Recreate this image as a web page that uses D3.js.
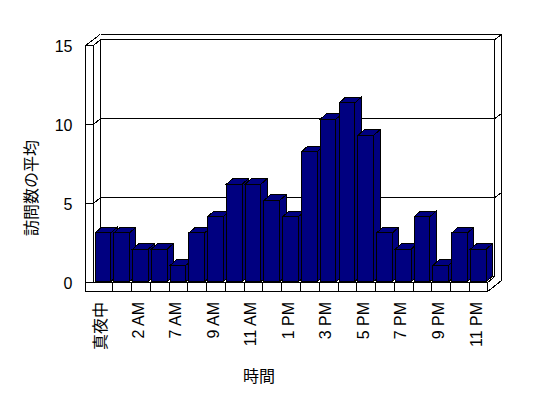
<!DOCTYPE html>
<html><head><meta charset="utf-8">
<script src="https://cdn.jsdelivr.net/npm/d3@7"></script>
<style>body{margin:0;background:#fff}svg{display:block}</style>
</head><body>
<svg id="c" width="548" height="398"></svg>
<script>
// ---- data ----
const categories = ["真夜中","1 AM","2 AM","6 AM","7 AM","8 AM","9 AM","10 AM","11 AM","12 PM","1 PM","2 PM","3 PM","4 PM","5 PM","6 PM","7 PM","8 PM","9 PM","10 PM","11 PM"];
const values = [3,3,2,2,1,3,4,6,6,5,4,8,10,11,9,3,2,4,1,3,2];
const yTicks = [0,5,10,15];
const xTickLabels = ["真夜中","2 AM","7 AM","9 AM","11 AM","1 PM","3 PM","5 PM","7 PM","9 PM","11 PM"];
const yTitle = "訪問数の平均";
const xTitle = "時間";

// ---- layout ----
const svg = d3.select("#c");
const latin = "'Liberation Sans', Arial, sans-serif";
const cjk = "'Noto Sans CJK JP', sans-serif";
const wallX = 85.5, plotX0 = 93.5, plotX1 = 487.7;
const DX = 7, DY = -6;          // depth (front -> back plane)
const outerTop = 34.5, outerRight = 501.5, floorBottom = 291.5;

const x = d3.scaleBand().domain(categories).range([plotX0, plotX1]).padding(0);
const yFront = d3.scaleLinear().domain([0,15]).range([282.5,45.5]);
const yBar = d3.scaleLinear().domain([0,15]).range([281.7,37.95]);

const g = svg.append("g").attr("fill","none").attr("stroke","#000").attr("stroke-width",1)
  .attr("shape-rendering","crispEdges");
const line = (pts) => g.append("path").attr("d", d3.line()(pts));

const xr = plotX1 + DX; // back-right x
// left wall
line([[wallX, yFront(15)],[wallX, floorBottom]]);
line([[plotX0, yFront(15)],[plotX0, yFront(0)]]);
line([[plotX0+DX, yFront(15)+DY],[plotX0+DX, yFront(0)+DY]]);
line([[wallX, yFront(15)],[plotX0+DX-0.5, outerTop]]);
// top
line([[plotX0+DX, outerTop],[outerRight, outerTop]]);
// right side
line([[outerRight, outerTop],[outerRight, 280.5]]);
line([[plotX1, floorBottom],[outerRight, 280.5]]);
line([[xr, yFront(15)+DY],[xr, yFront(0)+DY]]);
line([[plotX1, yFront(0)],[xr, yFront(0)+DY]]);
// gridlines / ticks
yTicks.forEach(v => {
  const yf = yFront(v), yb = yf + DY;
  if (v > 0) line([[wallX, yf],[plotX0, yf],[plotX0+DX, yb],[xr, yb],[outerRight, yb - 5]]);
  else line([[plotX0+DX, yb],[xr, yb]]);
});
// floor front face
line([[wallX, yFront(0)],[plotX1, yFront(0)]]);
line([[wallX, floorBottom],[plotX1, floorBottom]]);
line([[plotX1, yFront(0)],[plotX1, floorBottom]]);
categories.slice(1).forEach(c => {
  const xx = Math.round(x(c)) + 0.5;
  line([[xx, yFront(0)],[xx, floorBottom]]);
});

// bars
const bw = 15.7, bdx = 6.5, bdy = -5.7, boff = 1.5;
const bars = svg.append("g").attr("fill","#000080").attr("stroke","#000").attr("stroke-width",1)
  .attr("stroke-linejoin","miter").attr("shape-rendering","crispEdges");
categories.forEach((c, i) => {
  const x0 = x(c) + boff, x1 = x0 + bw;
  const yt = yBar(values[i]), yb = yBar(0);
  const bg = bars.append("g");
  bg.append("polygon").attr("points", [[x1,yt],[x1+bdx,yt+bdy],[x1+bdx,yb+bdy],[x1,yb]].join(" "));
  bg.append("polygon").attr("points", [[x0,yt],[x1,yt],[x1+bdx,yt+bdy],[x0+bdx,yt+bdy]].join(" "));
  bg.append("rect").attr("x", x0).attr("y", yt).attr("width", bw).attr("height", yb - yt);
});

// y axis labels
const yAxis = svg.append("g").attr("transform", `translate(${wallX},0)`)
  .call(d3.axisLeft(yFront).tickValues(yTicks).tickSize(0).tickPadding(13).tickFormat(d3.format("d")));
yAxis.select(".domain").remove();
yAxis.selectAll("text").attr("font-family", latin).attr("font-size", 16).attr("fill","#000").attr("dy","0.36em");

// x axis labels
const xAxis = svg.append("g").attr("transform", `translate(-2.5,302)`)
  .call(d3.axisBottom(x).tickValues(xTickLabels).tickSize(0));
xAxis.select(".domain").remove();
xAxis.selectAll("text")
  .attr("y", 0).attr("x", 0).attr("dy", "0.36em")
  .attr("transform", "rotate(-90)")
  .style("text-anchor", "end")
  .attr("font-family", d => /[^\x00-\x7f]/.test(d) ? cjk : latin)
  .attr("font-size", 16).attr("fill", "#000");

// titles
svg.append("text").attr("transform","translate(30,188) rotate(-90)")
  .attr("text-anchor","middle").attr("dominant-baseline","central")
  .attr("font-family", cjk).attr("font-size", 16).text(yTitle);
svg.append("text").attr("x", 259).attr("y", 375)
  .attr("text-anchor","middle").attr("dominant-baseline","central")
  .attr("font-family", cjk).attr("font-size", 16).text(xTitle);
</script>
</body></html>
